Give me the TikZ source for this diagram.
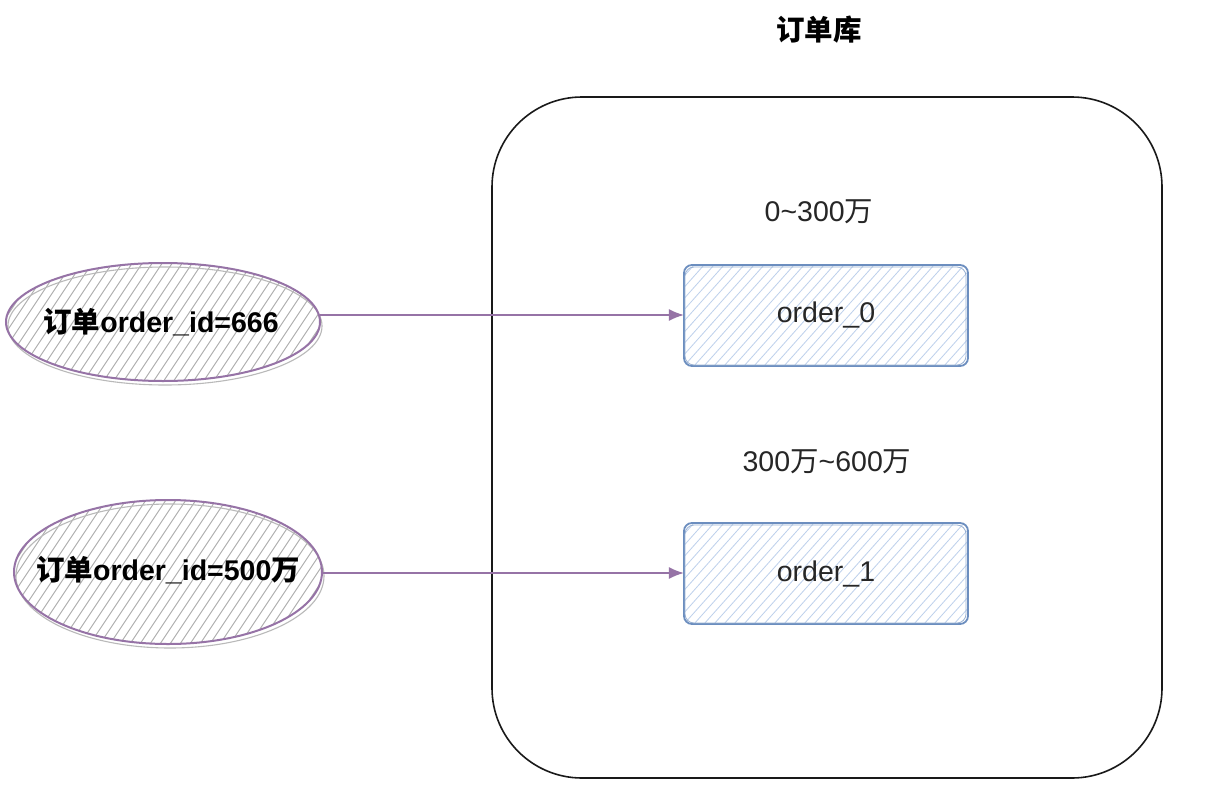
\documentclass[tikz,border=0pt]{standalone}
\usepackage{fontspec}
\setmainfont{Liberation Sans}
\newfontfamily\cjk{Noto Sans CJK SC}
\usetikzlibrary{arrows.meta,shapes.geometric}
\definecolor{purp}{HTML}{9673A6}
\definecolor{bluel}{HTML}{6C8EBF}
\definecolor{bluehatch}{HTML}{BDD0EC}
\definecolor{greyhatch}{HTML}{AAAAAA}
\tikzset{
  arr/.style={draw=purp, line width=1.3pt, -{Latex[length=15pt,width=12pt]}},
  lbl/.style={font=\fontsize{28.5}{32}\selectfont, text=black!85},
  blbl/.style={font=\fontsize{28.5}{32}\selectfont\bfseries, text=black},
}
\begin{document}
\begin{tikzpicture}[x=1pt,y=-1pt]
\useasboundingbox (0,0) rectangle (1226,806);
\fill[white] (0,0) rectangle (1226,806);
% title
\node[blbl] (title) at (819,30) {\cjk\bfseries 订单库};
% big container
\draw[line width=1.6pt, black!90, rounded corners=90pt] (492,97) rectangle (1162,778);
% range labels
\node[lbl] (r0) at (819,212) {0\char`\~300{\cjk 万}};
\node[lbl] (r1) at (827,462) {300{\cjk 万}\char`\~600{\cjk 万}};
% boxes with hatch
\foreach \y/\nm/\t in {265/b0/order\_0, 523/b1/order\_1}{
  \begin{scope}
    \clip[rounded corners=8pt] (684,\y) rectangle (968,\y+101);
    \foreach \k in {-120,-110,...,420}{
      \draw[bluehatch, line width=0.8pt] (684+\k,\y+101) -- (684+\k+90,\y);
    }
  \end{scope}
  \draw[bluel, line width=1.8pt, rounded corners=8pt] (684,\y) rectangle (968,\y+101);
  \draw[bluel!70, line width=0.8pt, rounded corners=9pt] (685,\y+2) rectangle (966,\y+100);
  \node[lbl, inner sep=0pt, minimum width=284pt, minimum height=101pt] (\nm) at (826,\y+50.5) {\t};
}
% ellipses
\foreach \cx/\cy/\rx/\ry/\nm in {163/322/157/59/e0, 168/572/154/72/e1}{
  \begin{scope}
    \clip (\cx,\cy) ellipse [x radius=\rx, y radius=\ry];
    \foreach \k in {-280,-270,...,280}{
      \draw[greyhatch, line width=0.9pt] (\cx+\k-60,\cy+90) -- (\cx+\k+60,\cy-90);
    }
  \end{scope}
  \draw[gray!55, line width=1.1pt] (\cx+2,\cy+4) ellipse [x radius=\rx, y radius=\ry];
  \draw[purp, line width=2pt] (\cx,\cy) ellipse [x radius=\rx, y radius=\ry];
  \node[ellipse, minimum width=2*\rx, minimum height=2*\ry, inner sep=0pt] (\nm) at (\cx,\cy) {};
}
\node[blbl] at ([xshift=-2pt]e0.center) {{\cjk\bfseries 订单}order\_id=666};
\node[blbl] at ([yshift=2pt]e1.center) {{\cjk\bfseries 订单}order\_id=500{\cjk\bfseries 万}};
% arrows
\draw[arr] (e0.east |- 0,315) -- (b0.west |- 0,315);
\draw[arr] (e1.east |- 0,573) -- (b1.west |- 0,573);
\end{tikzpicture}
\end{document}
